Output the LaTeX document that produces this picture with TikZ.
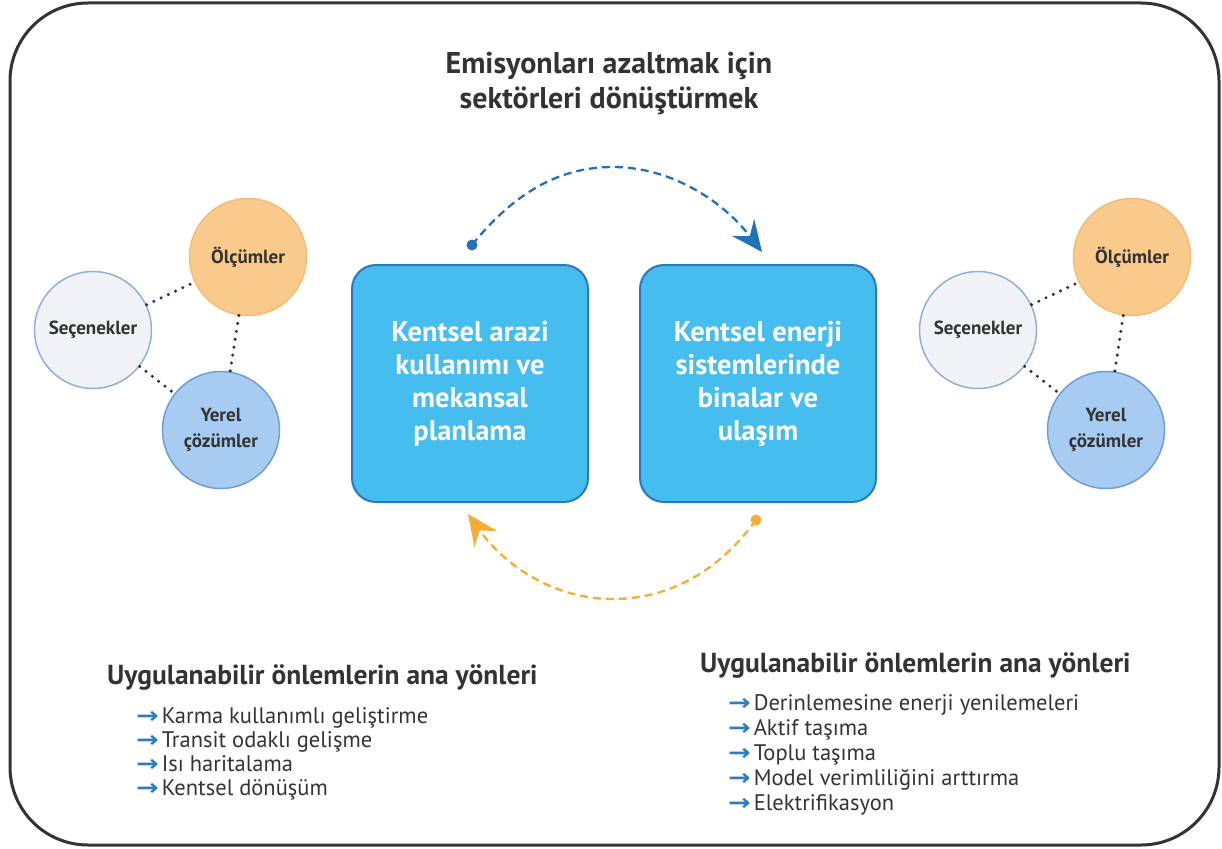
\documentclass[tikz,border=0pt]{standalone}
\usepackage{fontspec}
\setmainfont{PT Sans}
\newfontfamily\symfont{DejaVu Sans}
\usetikzlibrary{arrows.meta}

\definecolor{framegray}{HTML}{333333}
\definecolor{ink}{HTML}{333333}
\definecolor{boxfill}{HTML}{45BDEE}
\definecolor{boxline}{HTML}{2A78BD}
\definecolor{arrowblue}{HTML}{2272B9}
\definecolor{arroworange}{HTML}{F5AD35}
\definecolor{measfill}{HTML}{F9CA8C}
\definecolor{measline}{HTML}{F3BD78}
\definecolor{optfill}{HTML}{F1F2F5}
\definecolor{optline}{HTML}{93AEDB}
\definecolor{locfill}{HTML}{A8CBF1}
\definecolor{locline}{HTML}{6C9ED9}
\definecolor{bulletblue}{HTML}{2B7CC1}

% blue arrow used as list bullet
\newcommand\listarrow{{\color{bulletblue}\symfont\bfseries\scalebox{1.2}[1]{→}}\hspace{3pt}}

\begin{document}
\begin{tikzpicture}[x=1pt,y=-1pt,
  sector/.style={draw=boxline, line width=2pt, fill=boxfill, rounded corners=24pt,
    minimum width=236pt, minimum height=237pt, text=white, align=center, inner sep=0pt,
    font=\bfseries\fontsize{28.5}{33}\selectfont},
  bubble/.style={circle, minimum size=117pt, inner sep=0pt, line width=1.5pt,
    text=ink, align=center, font=\bfseries\fontsize{19}{26}\selectfont},
  measure/.style={bubble, draw=measline, fill=measfill},
  option/.style={bubble, draw=optline, fill=optfill},
  local/.style={bubble, draw=locline, fill=locfill},
  dotlink/.style={draw=ink, line width=3.4pt, line cap=round, dash pattern=on 0pt off 8pt},
  heading/.style={anchor=west, inner sep=0pt, text=ink, font=\bfseries\fontsize{27.5}{30}\selectfont},
  item/.style={anchor=west, inner sep=0pt, text=ink, text height=15pt, text depth=5pt,
    font=\fontsize{22.5}{24}\selectfont},
  cycle/.style={line width=2.3pt, dash pattern=on 8pt off 5pt},
  bigtip/.style={-{Stealth[length=31pt,width=28pt,inset=11pt]}}
]
\path[use as bounding box] (0,0) rectangle (1222,848);

% outer frame
\draw[framegray, line width=3pt, rounded corners=78pt] (10,3) rectangle (1219,845);

% title
\node[text=ink, align=center, font=\bfseries\fontsize{30}{35}\selectfont] (title) at (609,83)
  {Emisyonları azaltmak için\\sektörleri dönüştürmek};

% the two sectors
\node[sector] (land) at (470,383.5) {Kentsel arazi\\kullanımı ve\\mekansal\\planlama};
\node[sector] (energy) at (758,383.5) {Kentsel enerji\\sistemlerinde\\binalar ve\\ulaşım};

% cycle arrows between the sectors
\coordinate (ts) at (472,245);
\coordinate (te) at (762,252);
\fill[arrowblue] (ts) circle (5.5);
\draw[arrowblue, cycle, bigtip] (ts) .. controls (515,192) and (560,167) .. (613,167)
  .. controls (670,167) and (722,200) .. (te);

\coordinate (bs) at (756,520);
\coordinate (be) at (468,514);
\fill[arroworange] (bs) circle (5.5);
\draw[arroworange, cycle, bigtip] (bs) .. controls (720,570) and (670,599) .. (613,599)
  .. controls (550,599) and (502,562) .. (be);

% left triad
\node[measure] (lmeas) at (248,257) {Ölçümler};
\node[option]  (lopt)  at (93,330)  {Seçenekler};
\node[local]   (lloc)  at (221,430) {Yerel\\çözümler};
\draw[dotlink] (lopt) -- (lmeas);
\draw[dotlink] (lmeas) -- (lloc);
\draw[dotlink] (lopt) -- (lloc);

% right triad
\node[measure] (rmeas) at (1132,257) {Ölçümler};
\node[option]  (ropt)  at (978,330)  {Seçenekler};
\node[local]   (rloc)  at (1106,430) {Yerel\\çözümler};
\draw[dotlink] (ropt) -- (rmeas);
\draw[dotlink] (rmeas) -- (rloc);
\draw[dotlink] (ropt) -- (rloc);

% measures for land use
\node[heading] (lhead) at (107,677) {Uygulanabilir önlemlerin ana yönleri};
\node[item] (l1) at (136,718) {\listarrow Karma kullanımlı geliştirme};
\node[item] (l2) at (136,742) {\listarrow Transit odaklı gelişme};
\node[item] (l3) at (136,766) {\listarrow Isı haritalama};
\node[item] (l4) at (136,790) {\listarrow Kentsel dönüşüm};

% measures for energy systems
\node[heading] (rhead) at (700,665) {Uygulanabilir önlemlerin ana yönleri};
\node[item] (r1) at (728,705) {\listarrow Derinlemesine enerji yenilemeleri};
\node[item] (r2) at (728,730) {\listarrow Aktif taşıma};
\node[item] (r3) at (728,755) {\listarrow Toplu taşıma};
\node[item] (r4) at (728,780) {\listarrow Model verimliliğini arttırma};
\node[item] (r5) at (728,805) {\listarrow Elektrifikasyon};
\end{tikzpicture}
\end{document}
